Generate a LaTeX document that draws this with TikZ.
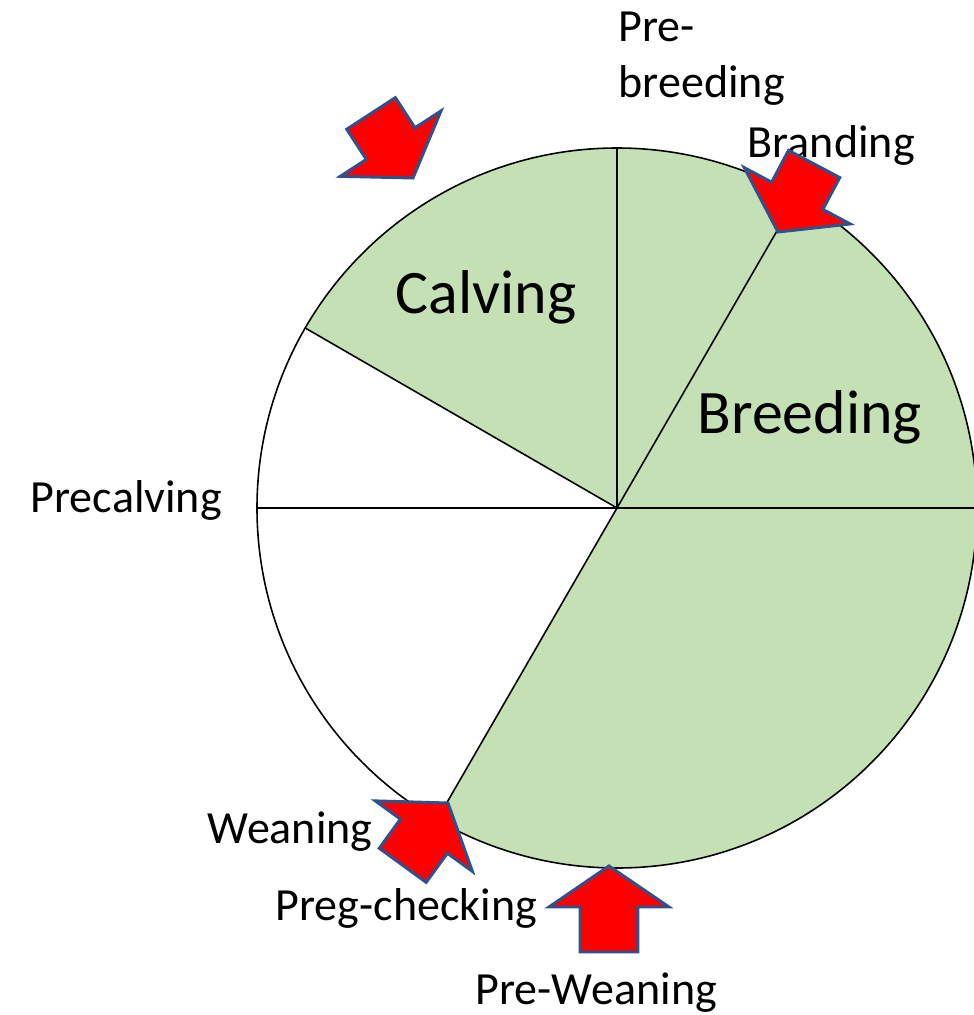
\documentclass[tikz,border=0pt]{standalone}
\usepackage{fontspec}
\setmainfont{Carlito}
\definecolor{sectorgreen}{HTML}{C5E0B4}
\definecolor{arrowblue}{HTML}{2F528F}
\tikzset{
  sector/.style={fill=sectorgreen},
  label/.style={inner sep=0pt, anchor=base west, font=\fontsize{13.1pt}{15.9pt}\selectfont},
  biglabel/.style={inner sep=0pt, anchor=base west, font=\fontsize{17.6pt}{21pt}\selectfont},
  arrowline/.style={draw=arrowblue, fill=red, line width=0.85pt, line join=miter},
  pics/blockarrow/.style={code={
    \draw[arrowline] (0,0) -- (-0.41,0.60) -- (-0.41,0.29) -- (-#1,0.29)
      -- (-#1,-0.29) -- (-0.41,-0.29) -- (-0.41,-0.60) -- cycle;
  }},
}
\begin{document}
\begin{tikzpicture}
  \useasboundingbox (-6.17,-5.07) rectangle (3.57,5.08);
  \coordinate (c) at (0,0);
  % green parts of the year
  \fill[sector] (c) -- (90:3.6) arc[start angle=90, end angle=150, radius=3.6] -- cycle;
  \fill[sector] (c) -- (0:3.6) arc[start angle=0, end angle=90, radius=3.6] -- cycle;
  \fill[sector] (c) -- (240:3.6) arc[start angle=240, end angle=360, radius=3.6] -- cycle;
  \draw[line width=0.45pt] (c) circle[radius=3.6];
  \draw[line width=0.45pt]
    (c) -- (0:3.6) (c) -- (60:3.6) (c) -- (90:3.6)
    (c) -- (150:3.6) (c) -- (180:3.6) (c) -- (240:3.6);
  % labels
  \node[label, align=left] (prebreed) at (0.01,4.11) {Pre-\\breeding};
  \node[label] (branding) at (1.30,3.51) {Branding};
  \node[biglabel] (calving) at (-2.22,1.95) {Calving};
  \node[biglabel] (breeding) at (0.80,0.75) {Breeding};
  \node[label] (precalving) at (-5.87,-0.04) {Precalving};
  \node[label] (weaning) at (-4.10,-3.35) {Weaning};
  \node[label] (pregcheck) at (-3.42,-4.12) {Preg-checking};
  \node[label] (prewean) at (-1.42,-4.96) {Pre-Weaning};
  % arrows
  \coordinate (tipcalv) at (-2.04,3.30);
  \coordinate (tipbrand) at (1.61,2.76);
  \coordinate (tipwean) at (-1.69,-2.95);
  \coordinate (tipprewean) at (-0.08,-3.58);
  \pic[rotate=-57] at (tipcalv) {blockarrow=0.77};
  \pic[rotate=-118] at (tipbrand) {blockarrow=0.77};
  \pic[rotate=54] at (tipwean) {blockarrow=0.77};
  \pic[rotate=90] at (tipprewean) {blockarrow=0.86};
\end{tikzpicture}
\end{document}
